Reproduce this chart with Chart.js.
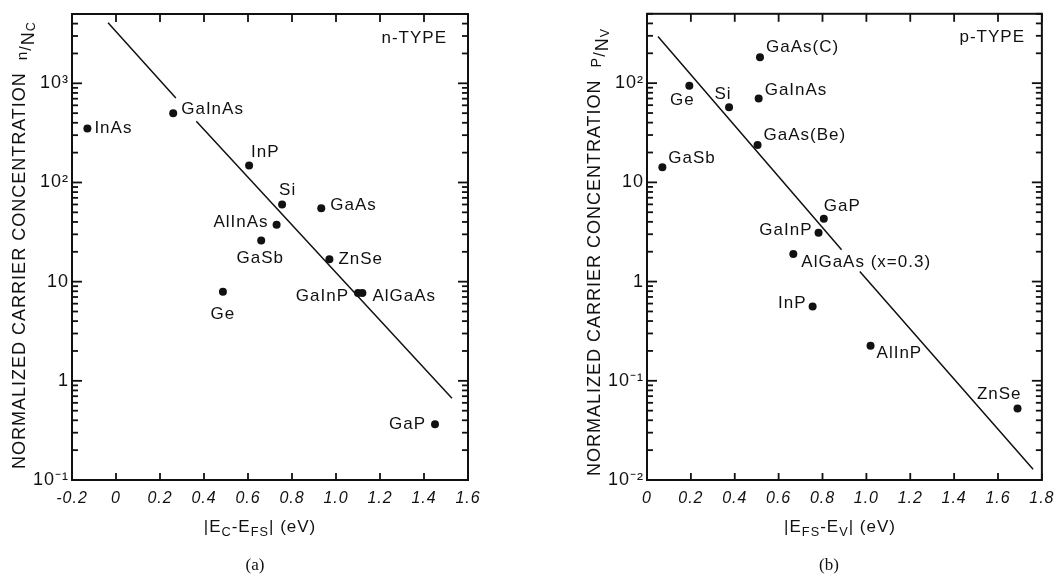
<!DOCTYPE html>
<html>
<head>
<meta charset="utf-8">
<script src="https://cdn.jsdelivr.net/npm/chart.js@4.4.0/dist/chart.umd.min.js"></script>
<style>
    html, body { margin: 0; padding: 0; background: #fff; }
    #wrap { position: relative; width: 1062px; height: 576px; }
    canvas { position: absolute; top: 0; }
    #chart-n { left: 0; }
    #chart-p { left: 531px; }
</style>
</head>
<body>
<div id="wrap">
    <canvas id="chart-n" width="531" height="576"></canvas>
    <canvas id="chart-p" width="531" height="576"></canvas>
</div>
<script>
// (a) n-type
const nNames = ["InAs", "GaInAs", "InP", "Si", "GaAs", "AlInAs", "GaSb", "ZnSe", "Ge", "GaInP", "AlGaAs", "GaP"];
const nEnergy = [-0.13, 0.26, 0.605, 0.755, 0.933, 0.73, 0.66, 0.97, 0.486, 1.10, 1.12, 1.45];
const nConc = [350, 500, 148, 60, 55, 37.5, 26, 16.8, 7.9, 7.7, 7.7, 0.365];
const nFitEnergy = [-0.036, 0.272, 0.318, 0.365, 1.527];
const nFitConc = [4070, 710, null, 415, 0.667];
const nTickVals = [0.1, 1, 10, 100, 1000];
const nTickLabels = ["10⁻¹", "1", "10", "10²", "10³"];

// (b) p-type
const pNames = ["GaAs(C)", "Ge", "Si", "GaInAs", "GaAs(Be)", "GaSb", "GaP", "GaInP", "AlGaAs (x=0.3)", "InP", "AlInP", "ZnSe"];
const pEnergy = [0.515, 0.193, 0.374, 0.509, 0.504, 0.07, 0.806, 0.782, 0.667, 0.755, 1.019, 1.689];
const pConc = [182, 94, 57, 70, 23.8, 14.2, 4.3, 3.1, 1.9, 0.56, 0.226, 0.0525];
const pFitEnergy = [0.05, 0.887, 0.93, 0.97, 1.76];
const pFitConc = [296, 2.09, null, 1.26, 0.0128];
const pTickVals = [0.01, 0.1, 1, 10, 100];
const pTickLabels = ["10⁻²", "10⁻¹", "1", "10", "10²"];

// where each point label sits relative to its dot: [dx, dy, align]
const nLabelPos = {
    "InAs": [7, 0, "left"], "GaInAs": [8, -4, "left"], "InP": [2, -13, "left"],
    "Si": [-3, -14, "left"], "GaAs": [9, -3, "left"], "AlInAs": [-8, -2, "right"],
    "GaSb": [-1, 18, "center"], "ZnSe": [9, 0, "left"], "Ge": [0, 23, "center"],
    "GaInP": [-9, 3, "right"], "AlGaAs": [10, 3, "left"], "GaP": [-9, 0, "right"]
};
const pLabelPos = {
    "GaAs(C)": [6, -10, "left"], "Ge": [-7, 14, "center"], "Si": [-6, -13, "center"],
    "GaInAs": [6, -8, "left"], "GaAs(Be)": [6, -10, "left"], "GaSb": [6, -9, "left"],
    "GaP": [0, -12, "left"], "GaInP": [-6, -3, "right"], "AlGaAs (x=0.3)": [8, 8, "left"],
    "InP": [-6, -3, "right"], "AlInP": [6, 8, "left"], "ZnSe": [4, -14, "right"]
};

const FAMILY = '"Liberation Sans", Arial, Helvetica, sans-serif';
const INK = "#111";

function fontOf(size, style) {
    return (style ? style + " " : "") + size + "px " + FAMILY;
}

// draws text made of pieces with their own size and vertical shift
function drawRich(ctx, parts, x, y, size, align) {
    let w = 0;
    parts.forEach(p => { ctx.font = fontOf(size * (p.sc || 1)); w += ctx.measureText(p.t).width; });
    let cx = align === "center" ? x - w / 2 : (align === "right" ? x - w : x);
    ctx.textAlign = "left";
    parts.forEach(p => {
        ctx.font = fontOf(size * (p.sc || 1));
        ctx.fillText(p.t, cx, y + (p.dy || 0));
        cx += ctx.measureText(p.t).width;
    });
}

function makeChart(canvasId, cfg) {
    const decor = {
        id: "decor",
        beforeDraw(chart) {
            chart.ctx.letterSpacing = "1px";
        },
        afterDraw(chart) {
            const ctx = chart.ctx;
            const a = chart.chartArea;
            const xs = chart.scales.x, ys = chart.scales.y;
            ctx.save();
            ctx.letterSpacing = "1px";
            ctx.strokeStyle = INK;
            ctx.fillStyle = INK;

            // frame
            ctx.lineWidth = 2;
            ctx.strokeRect(a.left, a.top, a.right - a.left, a.bottom - a.top);

            // inward ticks on all four sides
            const tw = 1.8;
            for (let v = cfg.xMin; v <= cfg.xMax + 1e-9; v += 0.2) {
                const px = xs.getPixelForValue(v);
                ctx.fillRect(px - tw / 2, a.bottom - 7, tw, 7);
                ctx.fillRect(px - tw / 2, a.top, tw, 8);
            }
            const e0 = Math.floor(Math.log10(cfg.yMin)), e1 = Math.ceil(Math.log10(cfg.yMax));
            for (let e = e0; e <= e1; e++) {
                for (let m = 1; m <= 9; m++) {
                    const v = m * Math.pow(10, e);
                    if (v < cfg.yMin * 0.999 || v > cfg.yMax * 1.001) continue;
                    const py = ys.getPixelForValue(v);
                    const len = m === 1 ? 10 : 6;
                    ctx.fillRect(a.left, py - tw / 2, len, tw);
                    ctx.fillRect(a.right - len, py - tw / 2, len, tw);
                }
            }

            // point labels
            const meta = chart.getDatasetMeta(0);
            ctx.font = fontOf(17);
            ctx.textBaseline = "middle";
            cfg.names.forEach((name, i) => {
                const el = meta.data[i];
                const pos = cfg.labelPos[name];
                ctx.textAlign = pos[2];
                ctx.fillText(name, el.x + pos[0], el.y + pos[1]);
            });

            // panel tag
            ctx.textAlign = "right";
            ctx.fillText(cfg.tag, cfg.tagX, cfg.tagY);

            // y title, rotated
            ctx.textBaseline = "alphabetic";
            ctx.save();
            ctx.translate(cfg.yTitleX, cfg.yTitleY);
            ctx.rotate(-Math.PI / 2);
            drawRich(ctx, cfg.yTitle, 0, 0, 18, "center");
            ctx.restore();

            // x title
            drawRich(ctx, cfg.xTitle, cfg.xTitleX, 532, 17, "center");

            // panel letter
            ctx.font = '17px "Liberation Serif", "Times New Roman", serif';
            ctx.letterSpacing = "0px";
            ctx.textAlign = "center";
            ctx.fillText(cfg.panel, cfg.panelX, 570);
            ctx.restore();
        }
    };

    return new Chart(document.getElementById(canvasId), {
        type: "scatter",
        data: {
            datasets: [{
                data: cfg.energy.map((e, i) => ({ x: e, y: cfg.conc[i] })),
                pointRadius: 4,
                pointBackgroundColor: INK,
                pointBorderWidth: 0,
                showLine: false
            }, {
                data: cfg.fitEnergy.map((e, i) => ({ x: e, y: cfg.fitConc[i] })),
                showLine: true,
                pointRadius: 0,
                borderColor: INK,
                borderWidth: 1.5,
                spanGaps: false
            }]
        },
        options: {
            responsive: false,
            animation: false,
            layout: { padding: cfg.padding },
            plugins: { legend: { display: false }, tooltip: { enabled: false } },
            scales: {
                x: {
                    type: "linear",
                    min: cfg.xMin,
                    max: cfg.xMax,
                    grid: { display: false, drawTicks: false },
                    border: { display: false },
                    afterFit: s => { s.height = 96; },
                    ticks: {
                        stepSize: 0.2,
                        padding: 9,
                        color: INK,
                        font: { family: FAMILY, size: 16, style: "italic" },
                        callback: v => Math.abs(v) < 1e-9 ? "0" : v.toFixed(1)
                    }
                },
                y: {
                    type: "logarithmic",
                    min: cfg.yMin,
                    max: cfg.yMax,
                    grid: { display: false, drawTicks: false },
                    border: { display: false },
                    afterFit: s => { s.width = cfg.yWidth; },
                    ticks: {
                        autoSkip: false,
                        padding: 3,
                        color: INK,
                        font: { family: FAMILY, size: 18 },
                        callback: v => {
                            const i = cfg.tickVals.findIndex(t => Math.abs(Math.log10(t) - Math.log10(v)) < 1e-6);
                            return i >= 0 ? cfg.tickLabels[i] : "";
                        }
                    }
                }
            }
        },
        plugins: [decor]
    });
}

makeChart("chart-n", {
    names: nNames, energy: nEnergy, conc: nConc,
    fitEnergy: nFitEnergy, fitConc: nFitConc,
    tickVals: nTickVals, tickLabels: nTickLabels,
    labelPos: nLabelPos,
    xMin: -0.2, xMax: 1.6, yMin: 0.1, yMax: 5000,
    yWidth: 72,
    padding: { left: 0, right: 63, top: 14, bottom: 0 },
    tag: "n-TYPE", tagX: 447, tagY: 38,
    yTitle: [{ t: "NORMALIZED CARRIER CONCENTRATION  " }, { t: "n", sc: 0.85, dy: 2 }, { t: "/", sc: 0.9, dy: 6 }, { t: "N", dy: 9 }, { t: "C", sc: 0.7, dy: 10 }],
    yTitleX: 25, yTitleY: 245,
    xTitle: [{ t: "|E" }, { t: "C", sc: 0.75, dy: 4 }, { t: "-E" }, { t: "FS", sc: 0.75, dy: 4 }, { t: "| (eV)" }],
    xTitleX: 260,
    panel: "(a)", panelX: 255
});

makeChart("chart-p", {
    names: pNames, energy: pEnergy, conc: pConc,
    fitEnergy: pFitEnergy, fitConc: pFitConc,
    tickVals: pTickVals, tickLabels: pTickLabels,
    labelPos: pLabelPos,
    xMin: 0, xMax: 1.8, yMin: 0.01, yMax: 500,
    yWidth: 116,
    padding: { left: 0, right: 20, top: 13, bottom: 0 },
    tag: "p-TYPE", tagX: 494, tagY: 37,
    yTitle: [{ t: "NORMALIZED CARRIER CONCENTRATION  " }, { t: "P", sc: 0.8, dy: 1 }, { t: "/", sc: 0.9, dy: 5 }, { t: "N", dy: 8 }, { t: "V", sc: 0.7, dy: 9 }],
    yTitleX: 69, yTitleY: 252,
    xTitle: [{ t: "|E" }, { t: "FS", sc: 0.75, dy: 4 }, { t: "-E" }, { t: "V", sc: 0.75, dy: 4 }, { t: "| (eV)" }],
    xTitleX: 309,
    panel: "(b)", panelX: 298
});
</script>
</body>
</html>
